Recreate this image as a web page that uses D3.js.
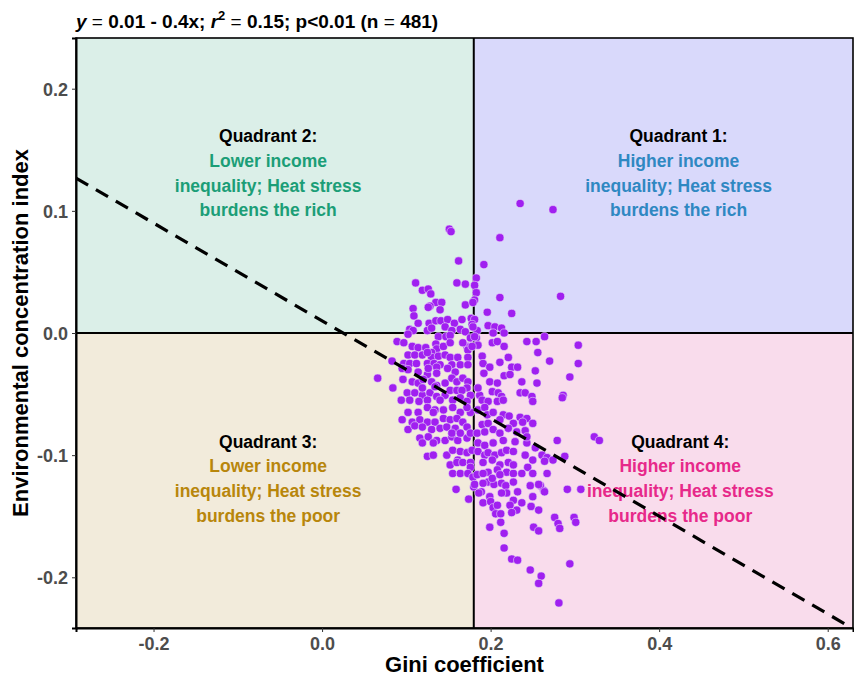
<!DOCTYPE html>
<meta charset="utf-8">
<style>
body { margin: 0; background: #fff; }
svg { display: block; font-family: "Liberation Sans", Arial, sans-serif; }
.tick text { font-weight: bold; fill: #4d4d4d; font-size: 18px; }
.tick line { stroke: #333; }
.qhead { font-weight: bold; font-size: 17.5px; fill: #000; }
.qbody { font-weight: bold; font-size: 17.5px; }
</style>
<svg width="854" height="678"></svg>
<script src="https://d3js.org/d3.v7.min.js"></script>
<script>

// regression shown in the title
var intercept = 0.01,
    slope = -0.4,
    giniSplit = 0.18;

var xTicks = [-0.2, 0, 0.2, 0.4, 0.6];
var yTicks = [-0.2, -0.1, 0, 0.1, 0.2];

// [gini, eci], top of the cloud down to the tail
var ptsTop = [[0.235,0.106],[0.274,0.101],[0.151,0.085],[0.153,0.083],[0.211,0.078],[0.162,0.059],[0.192,0.056],[0.183,0.045],[0.111,0.041],[0.160,0.041],[0.170,0.040],[0.181,0.039],[0.119,0.035],[0.126,0.036],[0.129,0.032],[0.183,0.033],[0.211,0.029],[0.283,0.030],[0.181,0.027],[0.135,0.025],[0.142,0.025],[0.128,0.022],[0.126,0.021],[0.170,0.023],[0.108,0.020],[0.140,0.019],[0.109,0.014],[0.196,0.017],[0.225,0.016],[0.177,0.012],[0.181,0.011],[0.114,0.008],[0.127,0.008],[0.135,0.010],[0.141,0.010],[0.149,0.011],[0.157,0.008],[0.178,0.007],[0.146,0.005],[0.164,0.003],[0.154,0.002],[0.104,0.003],[0.108,0.002],[0.125,0.002],[0.197,0.006],[0.205,0.005],[0.213,0.004],[0.184,0.002],[0.203,0.000],[0.216,0.000],[0.102,-0.001],[0.170,0.001],[0.166,0.011],[0.130,0.004],[0.179,0.025],[0.179,0.005]];

var ptsZero = [[0.176,-0.004],[0.183,-0.004],[0.264,-0.003],[0.138,-0.003],[0.147,-0.003],[0.152,-0.002],[0.089,-0.007],[0.097,-0.008],[0.135,-0.009],[0.202,-0.008],[0.208,-0.007],[0.243,-0.007],[0.254,-0.007],[0.304,-0.010],[0.107,-0.011],[0.114,-0.012],[0.123,-0.012],[0.136,-0.013],[0.172,-0.011],[0.174,-0.012],[0.216,-0.011],[0.144,-0.011],[0.152,-0.008],[0.167,-0.008],[0.173,-0.014],[0.130,-0.016],[0.102,-0.018],[0.110,-0.018],[0.119,-0.018],[0.130,-0.020],[0.138,-0.019],[0.146,-0.018],[0.152,-0.020],[0.161,-0.020],[0.173,-0.020],[0.125,-0.016],[0.185,-0.010],[0.190,-0.019],[0.211,-0.024],[0.221,-0.020],[0.256,-0.016],[0.270,-0.023],[0.304,-0.025],[0.178,-0.011],[0.181,-0.003]];

var ptsMid = [[0.083,-0.023],[0.097,-0.025],[0.104,-0.025],[0.112,-0.025],[0.125,-0.025],[0.133,-0.025],[0.140,-0.026],[0.136,-0.028],[0.154,-0.026],[0.164,-0.026],[0.173,-0.026],[0.095,-0.029],[0.102,-0.030],[0.114,-0.032],[0.125,-0.034],[0.126,-0.029],[0.136,-0.033],[0.149,-0.029],[0.158,-0.032],[0.066,-0.037],[0.096,-0.038],[0.107,-0.040],[0.114,-0.041],[0.120,-0.038],[0.130,-0.040],[0.136,-0.043],[0.146,-0.041],[0.154,-0.037],[0.160,-0.040],[0.167,-0.037],[0.173,-0.040],[0.084,-0.045],[0.101,-0.049],[0.110,-0.049],[0.119,-0.051],[0.128,-0.049],[0.136,-0.052],[0.146,-0.051],[0.152,-0.047],[0.160,-0.047],[0.172,-0.045],[0.176,-0.051],[0.119,-0.045],[0.134,-0.044],[0.166,-0.047],[0.094,-0.055],[0.104,-0.055],[0.115,-0.056],[0.125,-0.055],[0.140,-0.055],[0.155,-0.055],[0.164,-0.053],[0.172,-0.056],[0.102,-0.065],[0.114,-0.065],[0.125,-0.061],[0.134,-0.063],[0.144,-0.063],[0.155,-0.061],[0.164,-0.065],[0.176,-0.065],[0.172,-0.061],
  [0.191,-0.025],[0.199,-0.028],[0.225,-0.028],[0.232,-0.028],[0.253,-0.031],[0.216,-0.035],[0.223,-0.034],[0.192,-0.033],[0.237,-0.040],[0.255,-0.041],[0.294,-0.036],[0.199,-0.040],[0.208,-0.041],[0.202,-0.048],[0.209,-0.049],[0.213,-0.052],[0.235,-0.049],[0.241,-0.049],[0.249,-0.052],[0.286,-0.051],[0.285,-0.053],[0.187,-0.051],[0.190,-0.055],[0.197,-0.056],[0.208,-0.056],[0.215,-0.055],[0.250,-0.056],[0.185,-0.045],[0.185,-0.063],[0.193,-0.061],[0.196,-0.067],[0.203,-0.065],[0.215,-0.067],[0.222,-0.068],[0.235,-0.069],[0.243,-0.070]];

var ptsLow = [[0.095,-0.071],[0.107,-0.073],[0.116,-0.071],[0.125,-0.073],[0.134,-0.073],[0.144,-0.070],[0.152,-0.071],[0.160,-0.070],[0.167,-0.073],[0.172,-0.077],[0.102,-0.079],[0.110,-0.076],[0.119,-0.077],[0.130,-0.079],[0.140,-0.078],[0.148,-0.077],[0.158,-0.078],[0.116,-0.086],[0.126,-0.085],[0.136,-0.088],[0.146,-0.088],[0.154,-0.085],[0.161,-0.088],[0.172,-0.086],[0.125,-0.101],[0.132,-0.100],[0.148,-0.100],[0.155,-0.096],[0.164,-0.097],[0.172,-0.098],[0.178,-0.096],[0.132,-0.065],[0.119,-0.090],[0.132,-0.090],[0.154,-0.082],[0.164,-0.082],[0.176,-0.082],[0.184,-0.082],[0.161,-0.104],[0.185,-0.097],[0.193,-0.100],
  [0.190,-0.075],[0.197,-0.074],[0.211,-0.071],[0.227,-0.074],[0.238,-0.073],[0.250,-0.074],[0.193,-0.081],[0.203,-0.079],[0.211,-0.082],[0.221,-0.078],[0.231,-0.081],[0.241,-0.080],[0.185,-0.090],[0.193,-0.092],[0.203,-0.090],[0.215,-0.088],[0.229,-0.089],[0.243,-0.090],[0.253,-0.094],[0.279,-0.088],[0.288,-0.101],[0.197,-0.098],[0.205,-0.100],[0.213,-0.098],[0.219,-0.096],[0.227,-0.097],[0.241,-0.100],[0.261,-0.100],[0.267,-0.102],[0.274,-0.104],[0.243,-0.085],[0.250,-0.104],[0.264,-0.105],[0.323,-0.085],[0.329,-0.088]];

var ptsTail = [[0.152,-0.108],[0.160,-0.106],[0.167,-0.106],[0.176,-0.106],[0.176,-0.110],[0.155,-0.115],[0.164,-0.115],[0.173,-0.115],[0.179,-0.118],[0.191,-0.106],[0.202,-0.104],[0.211,-0.108],[0.221,-0.106],[0.244,-0.110],[0.250,-0.115],[0.267,-0.115],[0.197,-0.114],[0.208,-0.112],[0.219,-0.114],[0.227,-0.115],[0.237,-0.115],[0.291,-0.128],[0.307,-0.128],[0.263,-0.129],[0.259,-0.125],[0.159,-0.128],[0.174,-0.136],[0.180,-0.126],[0.189,-0.130],[0.191,-0.139],[0.199,-0.134],[0.200,-0.138],[0.203,-0.143],[0.206,-0.148],[0.212,-0.148],[0.212,-0.155],[0.199,-0.159],[0.216,-0.164],[0.216,-0.176],[0.225,-0.185],[0.232,-0.186],[0.247,-0.194],[0.260,-0.199],[0.257,-0.205],[0.281,-0.221],[0.294,-0.189],[0.251,-0.159],[0.257,-0.162],[0.276,-0.151],[0.280,-0.156],[0.282,-0.160],[0.299,-0.151],[0.301,-0.155],[0.264,-0.130],[0.248,-0.142],[0.257,-0.145],[0.247,-0.125],[0.257,-0.124],[0.250,-0.134],[0.197,-0.122],[0.204,-0.124],[0.213,-0.123],[0.218,-0.125],[0.227,-0.122],[0.219,-0.131],[0.213,-0.131],[0.232,-0.130],[0.227,-0.137],[0.223,-0.141],[0.231,-0.145],[0.225,-0.147],[0.237,-0.139],[0.208,-0.141],[0.186,-0.131],[0.181,-0.124],[0.184,-0.116],[0.191,-0.115],[0.227,-0.108],[0.202,-0.119],[0.211,-0.116],[0.191,-0.123]];

var quadNames = ["Quadrant 1:", "Quadrant 2:", "Quadrant 3:", "Quadrant 4:"];
var quadLines = [
  ["Higher income", "inequality; Heat stress", "burdens the rich"],
  ["Lower income", "inequality; Heat stress", "burdens the rich"],
  ["Lower income", "inequality; Heat stress", "burdens the poor"],
  ["Higher income", "inequality; Heat stress", "burdens the poor"]
];
var quadFill = ["#d9d9fb", "#dbefe8", "#f2ebdb", "#f9dcec"];
var quadText = ["#2f88c2", "#1b9e77", "#b8860b", "#e7298a"];

var svg = d3.select("svg"),
    padL = 76, padR = 853, padT = 38, padB = 628;

var x = d3.scaleLinear().domain([-0.292, 0.630]).range([padL, padR]);
var y = d3.scaleLinear().domain([-0.2415, 0.2415]).range([padB, padT]);

svg.append("clipPath").attr("id", "panel")
  .append("rect").attr("x", padL).attr("y", padT)
  .attr("width", padR - padL).attr("height", padB - padT);

// quadrant backgrounds: [x0, x1, y0, y1] in data units
var xd = x.domain(), yd = y.domain();
var quadBox = [
  [giniSplit, xd[1], 0, yd[1]],
  [xd[0], giniSplit, 0, yd[1]],
  [xd[0], giniSplit, yd[0], 0],
  [giniSplit, xd[1], yd[0], 0]
];
svg.selectAll("rect.quad").data(quadBox).enter().append("rect")
  .attr("class", "quad")
  .attr("x", function(d) { return x(d[0]); })
  .attr("y", function(d) { return y(d[3]); })
  .attr("width", function(d) { return x(d[1]) - x(d[0]); })
  .attr("height", function(d) { return y(d[2]) - y(d[3]); })
  .style("fill", function(d, i) { return quadFill[i]; });

// quadrant labels
var labelAt = [[0.423, 0.156], [-0.064, 0.156], [-0.064, -0.094], [0.425, -0.094]];
quadNames.forEach(function(name, i) {
  var g = svg.append("g")
    .attr("transform", "translate(" + x(labelAt[i][0]) + "," + y(labelAt[i][1]) + ")")
    .attr("text-anchor", "middle");
  g.append("text").attr("class", "qhead").attr("y", 0).text(name);
  quadLines[i].forEach(function(t, j) {
    g.append("text").attr("class", "qbody")
      .attr("y", (j + 1) * 24.6)
      .style("fill", quadText[i])
      .text(t);
  });
});

// quadrant split lines
svg.append("line")
  .attr("x1", x(giniSplit)).attr("x2", x(giniSplit))
  .attr("y1", padT).attr("y2", padB)
  .style("stroke", "#000").style("stroke-width", 2);
svg.append("line")
  .attr("x1", padL).attr("x2", padR)
  .attr("y1", y(0)).attr("y2", y(0))
  .style("stroke", "#000").style("stroke-width", 2);

var pts = ptsTop.concat(ptsZero, ptsMid, ptsLow, ptsTail);

svg.append("g").attr("clip-path", "url(#panel)")
  .selectAll("circle").data(pts).enter().append("circle")
  .attr("cx", function(d) { return x(d[0]); })
  .attr("cy", function(d) { return y(d[1]); })
  .attr("r", 4.1)
  .style("fill", "#a020f0")
  .style("stroke", "#e8dcf5")
  .style("stroke-width", 0.6);

// fitted line
svg.append("line").attr("clip-path", "url(#panel)")
  .attr("x1", x(xd[0])).attr("y1", y(intercept + slope * xd[0]))
  .attr("x2", x(xd[1])).attr("y2", y(intercept + slope * xd[1]))
  .style("stroke", "#000").style("stroke-width", 3.2)
  .style("stroke-dasharray", "14,9");

// panel frame
svg.append("rect")
  .attr("x", padL).attr("y", padT)
  .attr("width", padR - padL).attr("height", padB - padT)
  .style("fill", "none").style("stroke", "#000").style("stroke-width", 1.6);

var fmt = function(d) { return d.toFixed(1); };

svg.append("g").attr("transform", "translate(0," + padB + ")")
  .call(d3.axisBottom(x).tickValues(xTicks).tickFormat(fmt).tickSize(4).tickPadding(5))
  .call(function(g) { g.select(".domain").style("stroke", "#000").style("stroke-width", 2); });

svg.append("g").attr("transform", "translate(" + padL + ",0)")
  .call(d3.axisLeft(y).tickValues(yTicks).tickFormat(fmt).tickSize(4).tickPadding(4))
  .call(function(g) { g.select(".domain").style("stroke", "#000").style("stroke-width", 2); })
  .selectAll("text").attr("dy", "0.36em");

svg.selectAll(".tick text").style("font-family", "'Liberation Sans', Arial, sans-serif");

svg.append("text")
  .attr("x", (padL + padR) / 2).attr("y", 672)
  .attr("text-anchor", "middle")
  .style("font-weight", "bold").style("font-size", "22px")
  .text("Gini coefficient");

svg.append("text")
  .attr("transform", "translate(28," + (padT + padB) / 2 + ") rotate(-90)")
  .attr("text-anchor", "middle")
  .style("font-weight", "bold").style("font-size", "22px")
  .text("Environmental concentration index");

// title with plotmath-like pieces
var title = svg.append("text")
  .attr("x", padL).attr("y", 28)
  .style("font-weight", "bold").style("font-size", "19px");
title.append("tspan").style("font-style", "italic").text("y");
title.append("tspan").style("font-weight", "normal").text(" = ");
title.append("tspan").text("0.01 - 0.4x; ");
title.append("tspan").style("font-style", "italic").text("r");
title.append("tspan").attr("dy", -8).style("font-size", "13px").text("2");
title.append("tspan").attr("dy", 8).style("font-weight", "normal").text(" = ");
title.append("tspan").text("0.15; p<0.01 (n");
title.append("tspan").style("font-weight", "normal").text(" = ");
title.append("tspan").text("481)");

</script>
